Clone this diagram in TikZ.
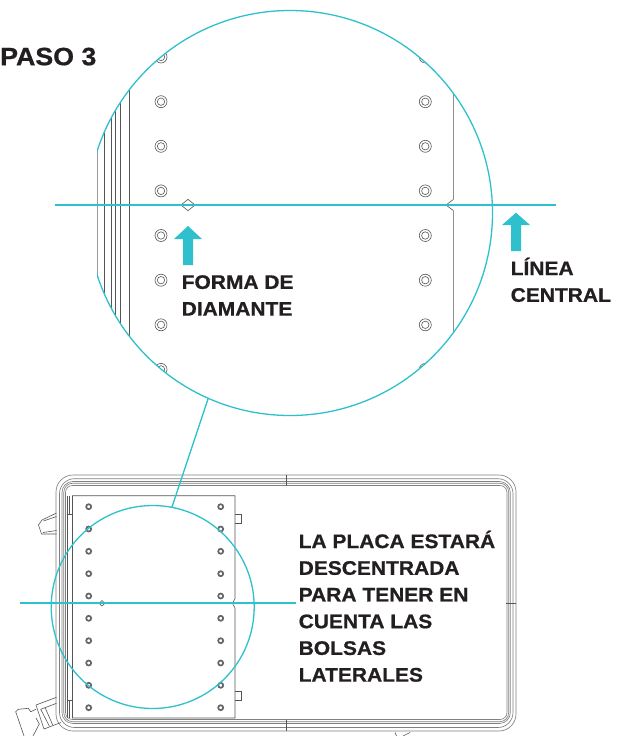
\documentclass[tikz,border=0pt]{standalone}
\usepackage{fontspec}
\setmainfont{Liberation Sans}[BoldFont={Liberation Sans Bold},BoldFeatures={FakeStretch=1.07,FakeBold=0.8}]
\definecolor{teal}{HTML}{2EC1CD}
\definecolor{ink}{HTML}{231F20}
\definecolor{linegray}{HTML}{555555}
\tikzset{
  tealline/.style={draw=teal,line width=1.3pt},
  centerline/.style={draw=teal,line width=1.7pt},
  thinline/.style={draw=linegray,line width=.6pt},
  caseline/.style={draw=linegray!75,line width=.65pt,rounded corners=#1},
  label/.style={font=\bfseries\fontsize{19.6}{26.7}\selectfont,text=ink,align=left,inner sep=0pt,anchor=north west},
  pointer/.style={fill=teal,draw=none},
  bighole/.style={draw=linegray,line width=.6pt},
  smallhole/.style={draw=linegray!90,line width=1.7pt}
}
\begin{document}
\begin{tikzpicture}[x=1pt,y=-1pt]
\useasboundingbox (0,0) rectangle (629,736);
% --- enlarged detail
\begin{scope}
  \clip (290,213) circle (202.5);
  \foreach \x in {104.3,111.7,115,120.7,129.3}
    \draw[thinline] (\x,0) -- (\x,420);
  \draw[draw=linegray!60,line width=1pt] (97,100) -- (97,300);
  \foreach \x in {161,425.3}
    \foreach \y in {57,101.7,146.3,190.9,235.5,280.2,324.8,369.4} {
      \draw[bighole] (\x,\y) circle (6);
      \draw[bighole] (\x,\y) circle (3.7);
    }
  \draw[thinline] (453.3,0) -- (453.3,199.5) -- (446,205) -- (453.3,210.5) -- (453.3,420);
\end{scope}
\draw[thinline] (181,205) -- (188,199.3) -- (195,205) -- (188,210.7) -- cycle;
\begin{scope}
  \clip (97,0) rectangle (629,430);
  \node[circle,minimum size=405pt,inner sep=0pt,tealline] (big) at (290,213) {};
\end{scope}
\coordinate (cla) at (55,205);
\coordinate (clb) at (556,205);
\draw[centerline] (cla) -- (clb);
\fill[pointer] (188,226) -- (202,239) -- (193,239) -- (193,265) -- (183,265) -- (183,239) -- (174,239) -- cycle;
\fill[pointer] (516,212.7) -- (530,225) -- (521,225) -- (521,251) -- (511,251) -- (511,225) -- (502,225) -- cycle;
\node[label,font=\bfseries\fontsize{25}{26}\selectfont] (title) at (0,47.5) {PASO 3};
\node[label] (shape) at (181.5,275) {FORMA DE\\DIAMANTE};
\node[label] (central) at (510.5,257.5) {LÍNEA\\CENTRAL};
% --- case
\draw[caseline=17] (56,475) rectangle (516,731);
\draw[caseline=15] (59.5,478.7) rectangle (513,727.5);
\draw[caseline=11] (62,481.5) rectangle (510.3,723.5);
\draw[caseline=9] (63.8,483.2) rectangle (508.7,721.7);
\draw[caseline=7] (65.5,485.5) rectangle (507,719.5);
\draw[thinline] (286.5,475) -- (286.5,486);
\draw[thinline] (286.5,720) -- (286.5,731);
\draw[thinline] (506,603.3) -- (516,603.3);
% handles
\draw[thinline] (56.5,513) -- (42,520) -- (38.5,525) -- (41.5,534) -- (56.5,534);
\draw[thinline] (56.5,516.5) -- (43.5,521);
\draw[thinline] (56.5,530.5) -- (43,532.5);
\draw[thinline] (36,705) -- (56.5,697.3);
\draw[thinline] (40.7,709.3) -- (56.5,703.3);
\draw[thinline] (36,705) -- (44,729) -- (61,722.5);
\draw[thinline] (40.7,709.3) -- (49.3,726);
\draw[thinline] (45,707.3) -- (52.7,725);
\draw[thinline] (36,709.3) -- (30.7,711.7) -- (28.3,708.3) -- (18.3,709.3) -- (15.7,711.7) -- (24,736);
\draw[thinline] (36,718) -- (39.3,724) -- (33,736);
\draw[thinline] (395,732.5) -- (396.5,736);
\draw[thinline] (403,736) -- (410,732.5);
% plate
\draw[thinline,fill=white] (72.5,495.7) -- (235,495.7) -- (235,598.5) -- (232.5,603.3) -- (235,608) -- (235,718) -- (72.5,718) -- cycle;
\draw[thinline] (67.5,495.7) -- (67.5,718);
\draw[draw=linegray,line width=1pt] (69.5,495.7) -- (69.5,514) (69.5,700) -- (69.5,718);
\draw[thinline] (67.5,514) -- (72.5,514) (67.5,700) -- (72.5,700);
\draw[thinline] (235,514) -- (241,514) -- (241,523) -- (235,523);
\draw[thinline] (235,691) -- (241,691) -- (241,700) -- (235,700);
\foreach \x in {88.7,220.7}
  \foreach \y in {506.7,529,551.3,573.7,596,618.3,640.7,663,685.3,707.7}
    \draw[smallhole] (\x,\y) circle (2.5);
\draw[thinline] (99,603.3) -- (102,600.6) -- (105,603.3) -- (102,606) -- cycle;
% --- small marker
\node[circle,minimum size=203pt,inner sep=0pt,tealline] (small) at (152.7,607) {};
\coordinate (cl2a) at (20,603.3);
\coordinate (cl2b) at (296,603.3);
\draw[centerline] (cl2a) -- (cl2b);
\coordinate (linka) at (208,399);
\coordinate (linkb) at (172,507);
\draw[tealline] (linka) -- (linkb);
\node[label] (note) at (298.5,530.5) {LA PLACA ESTARÁ\\DESCENTRADA\\PARA TENER EN\\CUENTA LAS\\BOLSAS\\LATERALES};
\end{tikzpicture}
\end{document}
